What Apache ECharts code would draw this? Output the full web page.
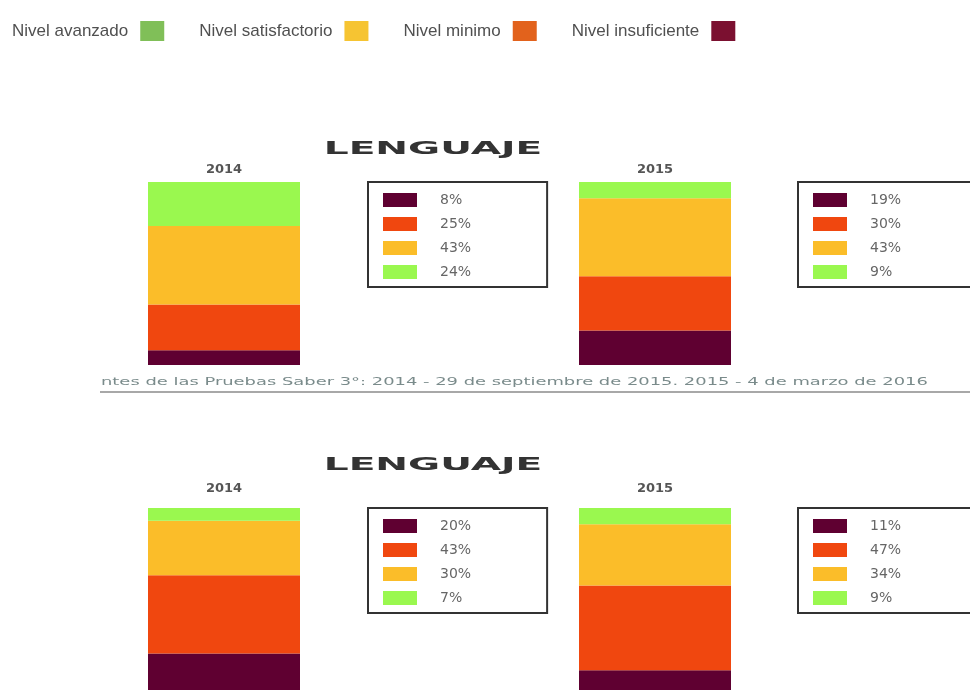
<!DOCTYPE html>
<html>
<head>
<meta charset="utf-8">
<title>Lenguaje 2014 - 2015</title>
<script src="https://cdn.jsdelivr.net/npm/echarts@6/dist/echarts.min.js"></script>
<style>
html, body { margin: 0; padding: 0; background: #fff; }
#chart { width: 970px; height: 690px; }
</style>
</head>
<body>
<div id="chart"></div>
<script>
// niveles, de abajo hacia arriba en cada barra
var levels = ['Nivel insuficiente', 'Nivel minimo', 'Nivel satisfactorio', 'Nivel avanzado'];
// orden de la leyenda de arriba
var headerLevels = ['Nivel avanzado', 'Nivel satisfactorio', 'Nivel minimo', 'Nivel insuficiente'];
var years = ['2014', '2015'];

// un valor por panel: [arriba 2014, arriba 2015, abajo 2014, abajo 2015]
var insuficiente = [8, 19, 20, 11];
var minimo = [25, 30, 43, 47];
var satisfactorio = [43, 43, 30, 34];
var avanzado = [24, 9, 7, 9];

var panelTitle = 'LENGUAJE';
var sourceNote = 'ntes de las Pruebas Saber 3°: 2014 - 29 de septiembre de 2015. 2015 - 4 de marzo de 2016';

var values = {
	'Nivel insuficiente': insuficiente,
	'Nivel minimo': minimo,
	'Nivel satisfactorio': satisfactorio,
	'Nivel avanzado': avanzado
};
var barColors = {
	'Nivel insuficiente': '#5f0031',
	'Nivel minimo': '#f0470f',
	'Nivel satisfactorio': '#fbbd29',
	'Nivel avanzado': '#9af84f'
};
var headerColors = {
	'Nivel avanzado': '#80bf58',
	'Nivel satisfactorio': '#f6c432',
	'Nivel minimo': '#e2621c',
	'Nivel insuficiente': '#7b1030'
};

// layout of the 4 boxes
var panels = [
	{ left: 148, top: 182, height: 183, year: 0, legendLeft: 368, labelMargin: 6 },
	{ left: 579, top: 182, height: 183, year: 1, legendLeft: 798, labelMargin: 6 },
	{ left: 148, top: 508, height: 185, year: 0, legendLeft: 368, labelMargin: 13 },
	{ left: 579, top: 508, height: 185, year: 1, legendLeft: 798, labelMargin: 13 }
];

function $each(arr, fn) { for (var k = 0; k < arr.length; k++) fn(arr[k], k); }

var myChart = echarts.init(document.getElementById('chart'));

var grid = [], xAxis = [], yAxis = [], series = [];
var legend = [{
	top: 16,
	left: 7,
	align: 'right',
	itemWidth: 24,
	itemHeight: 20,
	itemGap: 35,
	icon: 'rect',
	selectedMode: false,
	data: headerLevels.map(function (n) {
		return { name: n, itemStyle: { color: headerColors[n] } };
	}),
	formatter: function (name) { return '{a|' + name + '}'; },
	textStyle: {
		rich: {
			a: { fontFamily: 'Liberation Sans Narrow, Liberation Sans', fontSize: 17, color: '#505050', padding: [0, 7, 0, 0] }
		}
	}
}];

$each(panels, function (p, i) {
	grid.push({ left: p.left, top: p.top, width: 152, height: p.height });
	xAxis.push({
		type: 'category',
		gridIndex: i,
		position: 'top',
		data: [years[p.year]],
		axisLine: { show: false },
		axisTick: { show: false },
		axisLabel: { color: '#555', fontWeight: 'bold', fontSize: 13, fontFamily: 'DejaVu Sans', margin: p.labelMargin }
	});
	yAxis.push({ type: 'value', gridIndex: i, min: 0, max: 'dataMax', show: false });
	$each(levels, function (name) {
		series.push({
			name: name,
			type: 'bar',
			stack: 'panel' + i,
			xAxisIndex: i,
			yAxisIndex: i,
			barWidth: '100%',
			data: [values[name][i]],
			itemStyle: { color: barColors[name] },
			emphasis: { disabled: true }
		});
	});
	legend.push({
		orient: 'vertical',
		left: p.legendLeft,
		top: p.top,
		icon: 'rect',
		itemWidth: 34,
		itemHeight: 14,
		itemGap: 10,
		padding: [11, 76, 8, 15],
		borderColor: '#333',
		borderWidth: 2,
		selectedMode: false,
		data: levels.map(function (n) {
			return { name: n, itemStyle: { color: barColors[n] } };
		}),
		formatter: function (name) { return '{v|' + values[name][i] + '%}'; },
		textStyle: {
			rich: {
				v: { fontFamily: 'DejaVu Sans', fontSize: 14, lineHeight: 14, color: '#666', padding: [0, 0, 0, 18] }
			}
		}
	});
});

var titleText = function (y) {
	return {
		type: 'text',
		x: 433,
		y: y,
		scaleX: 2.3,
		style: {
			text: panelTitle,
			font: 'bold 17px "DejaVu Sans"',
			fill: '#333',
			textAlign: 'center',
			textVerticalAlign: 'middle'
		}
	};
};

option = {
	animation: false,
	backgroundColor: '#fff',
	grid: grid,
	xAxis: xAxis,
	yAxis: yAxis,
	legend: legend,
	series: series,
	graphic: [
		titleText(150),
		titleText(466),
		{
			type: 'text',
			x: 101,
			y: 382,
			scaleX: 1.79,
			style: {
				text: sourceNote,
				font: '10px "DejaVu Sans"',
				fill: '#4d6464',
				opacity: 0.75,
				textVerticalAlign: 'middle'
			}
		},
		{
			type: 'line',
			shape: { x1: 100, y1: 392, x2: 970, y2: 392 },
			style: { stroke: '#a8a8a8', lineWidth: 2 }
		}
	]
};

myChart.setOption(option);
</script>
</body>
</html>
